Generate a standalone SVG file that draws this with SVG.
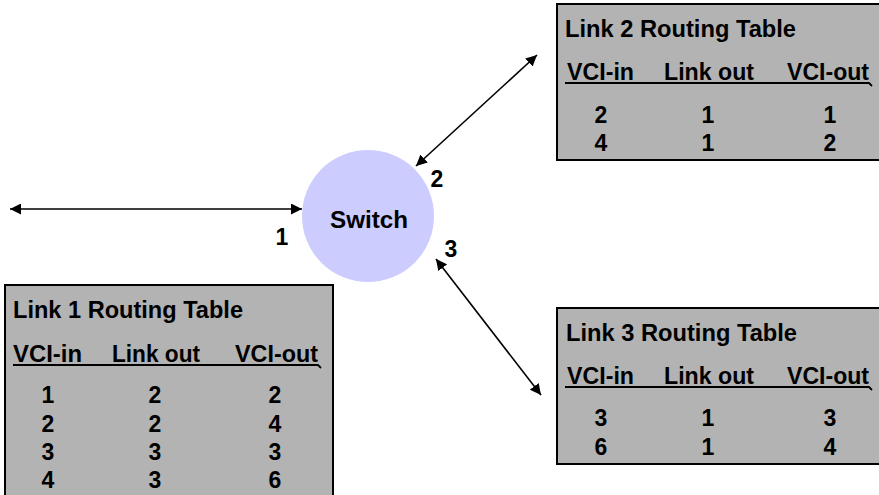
<svg xmlns="http://www.w3.org/2000/svg" width="879" height="495" viewBox="0 0 879 495">
  <style>
    .box { fill: #b3b3b3; stroke: #000; stroke-width: 2; }
    .t { font-family: "Liberation Sans", Arial, sans-serif; font-weight: bold; font-size: 23px; fill: #000; }
    .c { text-anchor: middle; }
    .ul { stroke: #000; stroke-width: 1.8; fill: none; }
    .conn { stroke: #000; stroke-width: 1.6; fill: none; marker-start: url(#ah); marker-end: url(#ah); }
  </style>
  <defs>
    <marker id="ah" viewBox="0 0 10 10" refX="10" refY="5" markerWidth="11" markerHeight="11" markerUnits="userSpaceOnUse" orient="auto-start-reverse">
      <path d="M0,0 L10,5 L0,10 Z" fill="#000"/>
    </marker>
  </defs>
  <rect width="879" height="495" fill="#fff"/>

  <g id="connectors">
    <line class="conn" x1="10" y1="209" x2="302" y2="209"/>
    <line class="conn" x1="416" y1="166" x2="537" y2="55"/>
    <line class="conn" x1="436" y1="259" x2="541" y2="395"/>
  </g>

  <g id="switch">
    <circle cx="368" cy="216" r="66" fill="#ccccff"/>
    <text class="t" x="330" y="228" textLength="78" lengthAdjust="spacingAndGlyphs">Switch</text>
  </g>

  <g id="port-labels">
    <text class="t c" x="282" y="245">1</text>
    <text class="t c" x="437" y="187">2</text>
    <text class="t c" x="451" y="257">3</text>
  </g>

  <g id="link2-table">
    <rect class="box" x="557" y="4" width="340" height="156"/>
    <text class="t" x="565" y="37" textLength="231" lengthAdjust="spacingAndGlyphs">Link 2 Routing Table</text>
    <text class="t" x="567" y="80" textLength="67" lengthAdjust="spacingAndGlyphs">VCI-in</text>
    <text class="t" x="664" y="80" textLength="90" lengthAdjust="spacingAndGlyphs">Link out</text>
    <text class="t" x="787" y="80" textLength="82" lengthAdjust="spacingAndGlyphs">VCI-out</text>
    <path class="ul" d="M565,83 H869 L872,86"/>
    <text class="t c" x="601" y="123">2</text>
    <text class="t c" x="708" y="123">1</text>
    <text class="t c" x="830" y="123">1</text>
    <text class="t c" x="601" y="151">4</text>
    <text class="t c" x="708" y="151">1</text>
    <text class="t c" x="830" y="151">2</text>
  </g>

  <g id="link3-table">
    <rect class="box" x="557" y="308" width="340" height="156"/>
    <text class="t" x="566" y="341" textLength="231" lengthAdjust="spacingAndGlyphs">Link 3 Routing Table</text>
    <text class="t" x="567" y="384" textLength="67" lengthAdjust="spacingAndGlyphs">VCI-in</text>
    <text class="t" x="664" y="384" textLength="90" lengthAdjust="spacingAndGlyphs">Link out</text>
    <text class="t" x="787" y="384" textLength="82" lengthAdjust="spacingAndGlyphs">VCI-out</text>
    <path class="ul" d="M565,387 H869 L872,390"/>
    <text class="t c" x="601" y="426">3</text>
    <text class="t c" x="708" y="426">1</text>
    <text class="t c" x="830" y="426">3</text>
    <text class="t c" x="601" y="455">6</text>
    <text class="t c" x="708" y="455">1</text>
    <text class="t c" x="830" y="455">4</text>
  </g>

  <g id="link1-table">
    <rect class="box" x="5" y="285" width="328" height="220"/>
    <text class="t" x="13" y="318" textLength="230" lengthAdjust="spacingAndGlyphs">Link 1 Routing Table</text>
    <text class="t" x="13" y="362" textLength="69" lengthAdjust="spacingAndGlyphs">VCI-in</text>
    <text class="t" x="112" y="362" textLength="88" lengthAdjust="spacingAndGlyphs">Link out</text>
    <text class="t" x="235" y="362" textLength="83" lengthAdjust="spacingAndGlyphs">VCI-out</text>
    <path class="ul" d="M13,365 H318 L321,368"/>
    <text class="t c" x="48" y="403">1</text>
    <text class="t c" x="155" y="403">2</text>
    <text class="t c" x="275" y="403">2</text>
    <text class="t c" x="48" y="432">2</text>
    <text class="t c" x="155" y="432">2</text>
    <text class="t c" x="275" y="432">4</text>
    <text class="t c" x="48" y="460">3</text>
    <text class="t c" x="155" y="460">3</text>
    <text class="t c" x="275" y="460">3</text>
    <text class="t c" x="48" y="488">4</text>
    <text class="t c" x="155" y="488">3</text>
    <text class="t c" x="275" y="488">6</text>
  </g>
</svg>
